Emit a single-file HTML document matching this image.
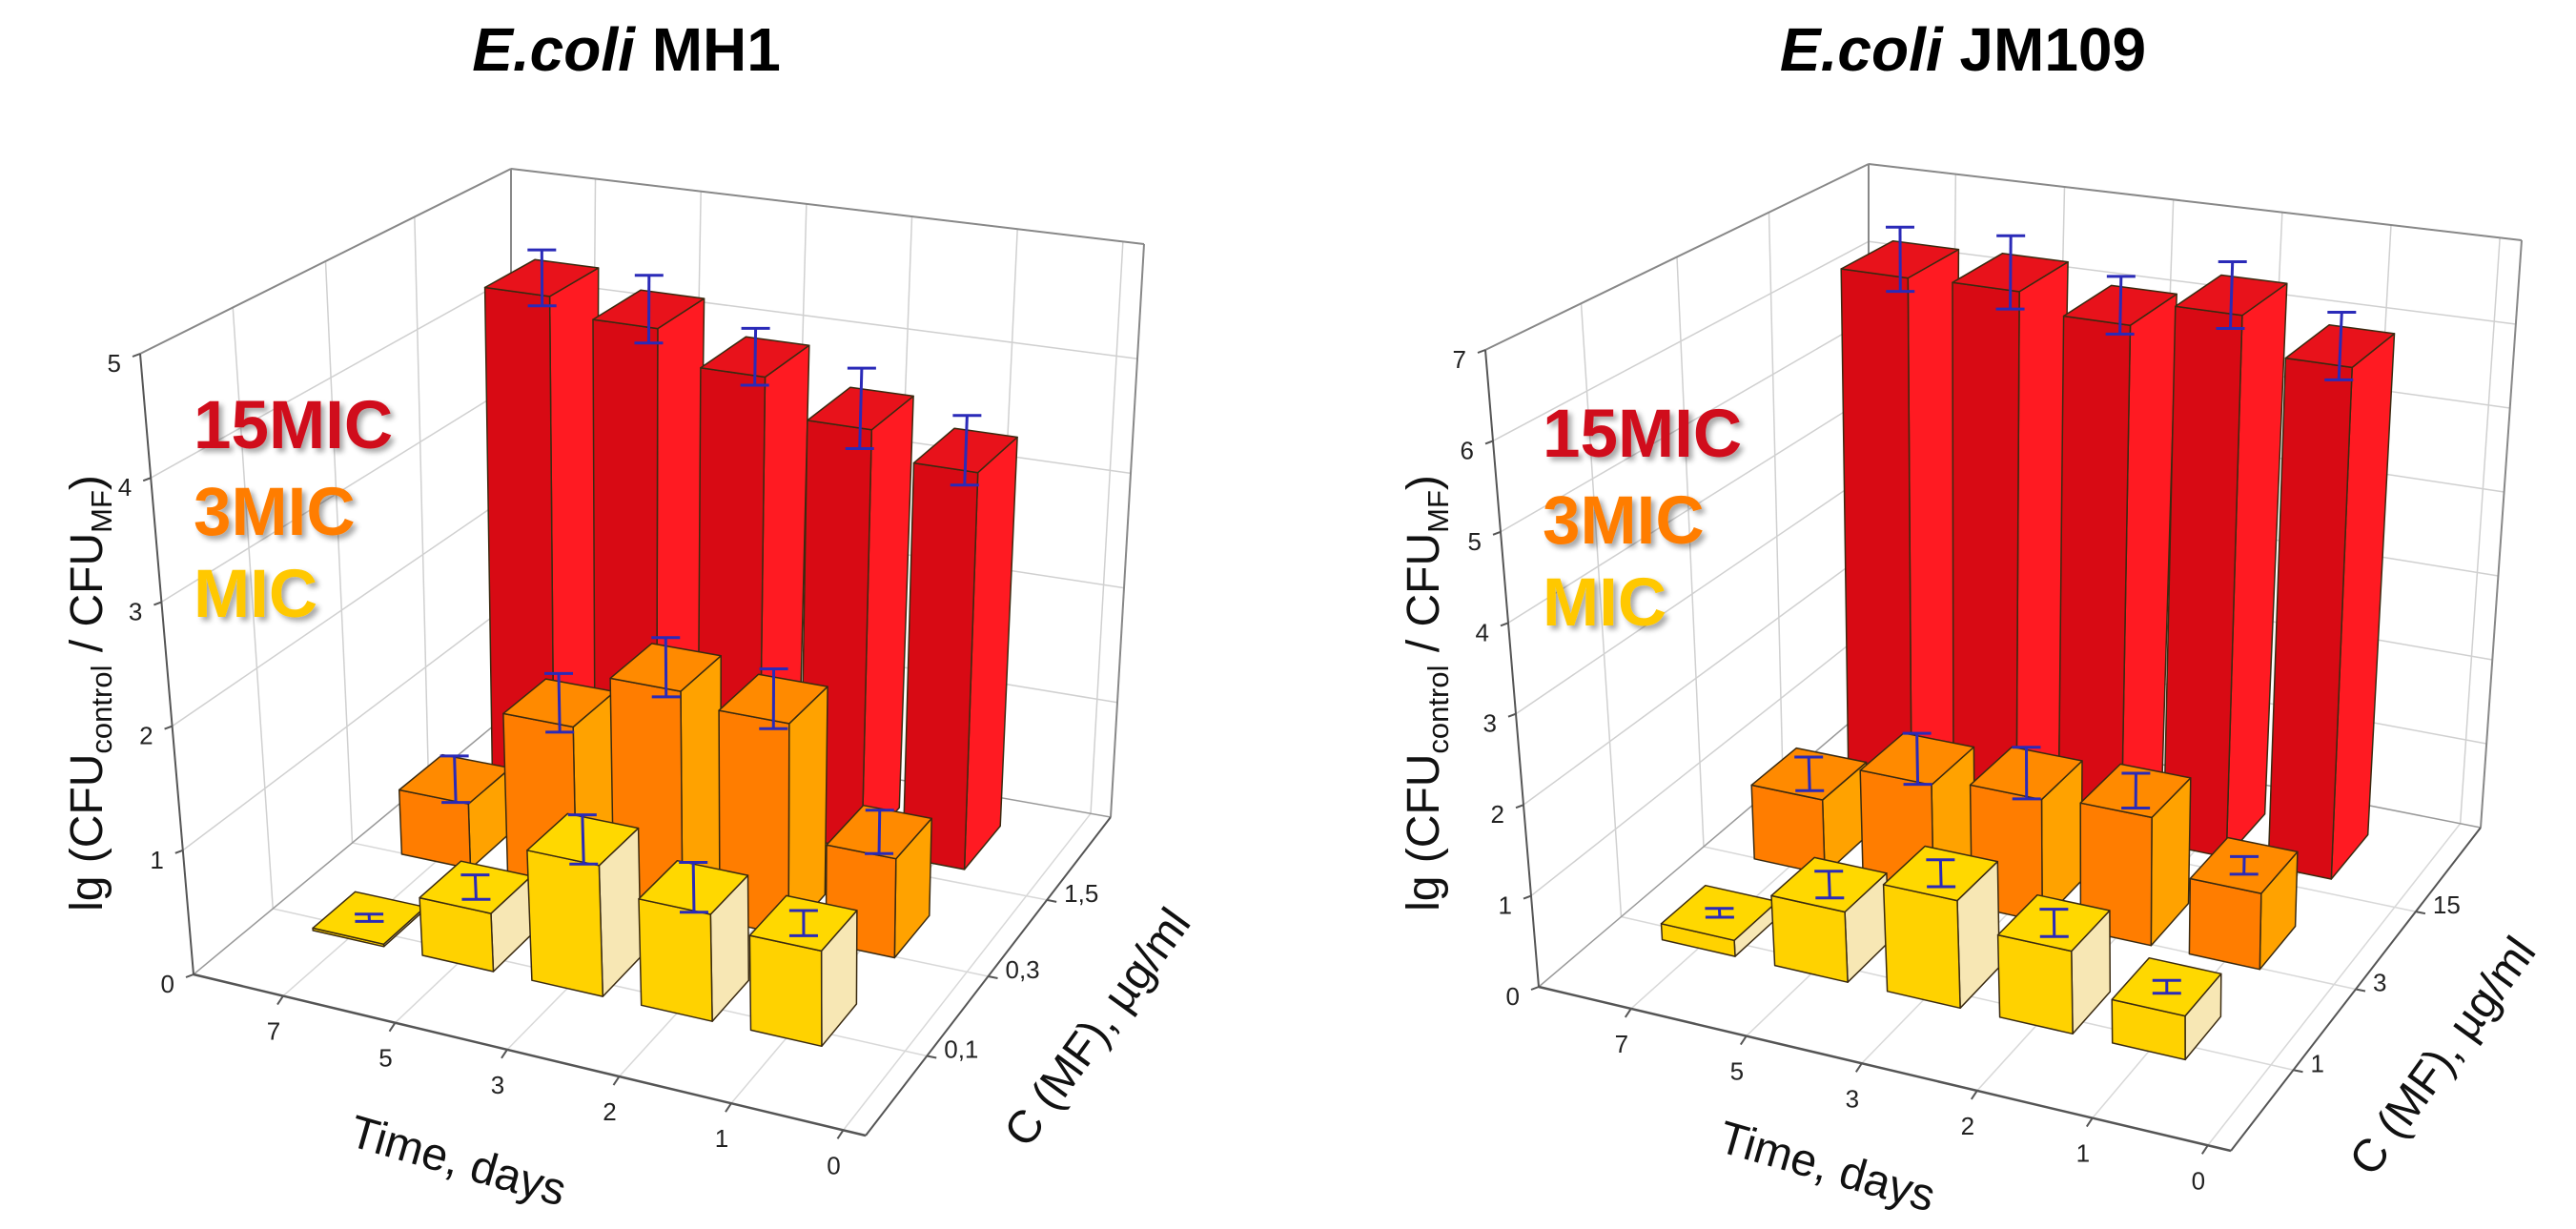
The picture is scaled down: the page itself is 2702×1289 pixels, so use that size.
<!DOCTYPE html>
<html><head><meta charset="utf-8">
<style>
html,body{margin:0;padding:0;background:#fff;}
svg{display:block;font-family:"Liberation Sans",sans-serif;}
</style></head>
<body>
<svg id="chart" width="2702" height="1289" viewBox="0 0 2702 1289">
<defs>
<filter id="sh" x="-10%" y="-10%" width="130%" height="140%"><feGaussianBlur in="SourceAlpha" stdDeviation="3"/><feOffset dx="4" dy="4"/><feComponentTransfer><feFuncA type="linear" slope="0.35"/></feComponentTransfer><feMerge><feMergeNode/><feMergeNode in="SourceGraphic"/></feMerge></filter>
</defs>
</svg>
<script>
// ---- data ----
const timeLabels = ["7","5","3","2","1","0"];
const zTicksA = [0,1,2,3,4,5];
const zTicksB = [0,1,2,3,4,5,6,7];
const concLabelsA = ["0,1","0,3","1,5"];
const concLabelsB = ["1","3","15"];
const seriesNames = ["MIC","3MIC","15MIC"];
const micA = [0.02,0.47,1.05,0.85,0.75];
const mic3A = [0.55,1.38,1.85,1.75,0.81];
const mic15A = [4.37,4.22,3.93,3.61,3.38];
const errA_mic = [0.03,0.1,0.2,0.2,0.1];
const errA_mic3 = [0.2,0.25,0.25,0.25,0.18];
const errA_mic15 = [0.25,0.3,0.25,0.35,0.3];
const micB = [0.18,0.78,1.18,0.9,0.47];
const mic3B = [0.87,1.31,1.4,1.45,0.85];
const mic15B = [6.3,6.32,6.1,6.4,5.97];
const errB_mic = [0.05,0.15,0.15,0.15,0.07];
const errB_mic3 = [0.2,0.3,0.3,0.2,0.1];
const errB_mic15 = [0.4,0.45,0.35,0.4,0.4];

const NS="http://www.w3.org/2000/svg";
const svg=document.getElementById('chart');
function mk(tag,attrs,parent){const e=document.createElementNS(NS,tag);for(const k in attrs)e.setAttribute(k,attrs[k]);(parent||svg).appendChild(e);return e;}

const panels=[
 {name:"mh1",title:"MH1",cx:657,zmax:5,zt:zTicksA,conc:concLabelsA,
  vals:[micA,mic3A,mic15A],errs:[errA_mic,errA_mic3,errA_mic15],
  C:{FLB:[203,1022],FLT:[147,371],FRB:[908,1191],FRT:[905,500],BLB:[536,746],BLT:[536,177],BRB:[1165,857],BRT:[1200,256]},
  lx:203,ly:470,ytx:91,yty:727,ctx:1150,cty:1077,ttx:476,tty:1217},
 {name:"jm109",title:"JM109",cx:2059,zmax:7,zt:zTicksB,conc:concLabelsB,
  vals:[micB,mic3B,mic15B],errs:[errB_mic,errB_mic3,errB_mic15],
  C:{FLB:[1614,1035],FLT:[1558,367],FRB:[2340,1207],FRT:[2335,500],BLB:[1960,741],BLT:[1960,172],BRB:[2602,868],BRT:[2645,252]},
  lx:1618,ly:479,ytx:1493,yty:727,ctx:2561,cty:1107,ttx:1912,tty:1223}
];
const colors=[
 {front:"#ffd200",side:"#f7e7b4",top:"#ffd800"},
 {front:"#ff7d00",side:"#ffa200",top:"#ff8a00"},
 {front:"#d80a14",side:"#ff1a22",top:"#e8121b"}
];
const rowDepth=[0.28,0.565,0.85];
const labelDepth=[0.25,0.5,0.74];
const rowHalfDepth=[0.068,0.068,0.07];
const rowHalfWidth=[0.054,0.054,0.05];
function lerp(a,b,t){return [a[0]+(b[0]-a[0])*t,a[1]+(b[1]-a[1])*t];}

panels.forEach(p=>{
  const C=p.C;
  const proj=(t,d,z)=>{
    const b=lerp(lerp(C.FLB,C.FRB,t),lerp(C.BLB,C.BRB,t),d);
    const u=lerp(lerp(C.FLT,C.FRT,t),lerp(C.BLT,C.BRT,t),d);
    return lerp(b,u,z/p.zmax);
  };
  const g=mk('g',{});
  
  
  const pt=a=>a[0].toFixed(1)+","+a[1].toFixed(1);
  const line=(a,b,col,w,par,nm)=>{const l=mk('line',{x1:a[0],y1:a[1],x2:b[0],y2:b[1],stroke:col,'stroke-width':w},par);return l;};
  const ti=mk('text',{x:p.cx,y:74,'text-anchor':'middle','font-size':64,'font-weight':'bold'},g);
  
  
  const i1=mk('tspan',{'font-style':'italic'},ti);i1.textContent="E.coli ";
  const i2=mk('tspan',{},ti);i2.textContent=p.title;
  const gg=mk('g',{},g);
  
  
  p.zt.forEach(z=>{ if(z===0)return;
    line(proj(0,0,z),proj(0,1,z),"#d0d0d0",1.5,gg,'grid-line');
    line(proj(0,1,z),proj(1,1,z),"#d0d0d0",1.5,gg,'grid-line');});
  for(let i=0;i<6;i++){const t=(i+0.8)/6;
    line(proj(t,1,0),proj(t,1,p.zmax),"#d0d0d0",1.5,gg,'grid-line');
    line(proj(t,0,0),proj(t,1,0),"#d8d8d8",1.5,gg,'grid-line');}
  labelDepth.forEach(d=>{
    line(proj(0,d,0),proj(0,d,p.zmax),"#d0d0d0",1.5,gg,'grid-line');
    line(proj(0,d,0),proj(1,d,0),"#d8d8d8",1.5,gg,'grid-line');});
  line(proj(0,1,0),proj(0,1,p.zmax),"#888",2,gg,'box-edge');
  line(proj(1,1,0),proj(1,1,p.zmax),"#888",2,gg,'box-edge');
  line(proj(0,0,p.zmax),proj(0,1,p.zmax),"#888",2,gg,'box-edge');
  line(proj(0,1,p.zmax),proj(1,1,p.zmax),"#888",2,gg,'box-edge');
  line(proj(0,1,0),proj(1,1,0),"#999",1.5,gg,'box-edge');
  line(proj(0,1,0),proj(0,0,0),"#999",1.5,gg,'box-edge');
  line(proj(0,0,0),proj(0,0,p.zmax),"#555",2,g,'z-axis');
  line(proj(0,0,0),proj(1,0,0),"#555",2.5,g,'time-axis');
  line(proj(1,0,0),proj(1,1,0),"#555",2,g,'conc-axis');
  p.zt.forEach(z=>{const a=proj(0,0,z);
    line(a,[a[0]-8,a[1]+3],"#555",2,g,'z-tick');
    const tx=mk('text',{x:a[0]-20,y:a[1]+19,'text-anchor':'end','font-size':26,fill:'#222'},g);
    
    
    tx.textContent=z;});
  timeLabels.forEach((s,i)=>{const a=proj((i+0.8)/6,0,0);
    line(a,[a[0]-6,a[1]+9],"#555",2,g,'time-tick');
    const tx=mk('text',{x:a[0]-10,y:a[1]+46,'text-anchor':'middle','font-size':26,fill:'#222'},g);
    
    
    tx.textContent=s;});
  p.conc.forEach((s,i)=>{const a=proj(1,labelDepth[i],0);
    line(a,[a[0]+10,a[1]+2],"#555",2,g,'conc-tick');
    const tx=mk('text',{x:a[0]+18,y:a[1]+2,'text-anchor':'start','font-size':26,fill:'#222'},g);
    
    
    tx.textContent=s;});
  for(let r=2;r>=0;r--){
    const vals=p.vals[r],errs=p.errs[r],col=colors[r],d=rowDepth[r];
    vals.forEach((v,i)=>{
      const tc=(i+0.8)/6, hw=rowHalfWidth[r], hd=rowHalfDepth[r], t0=tc-hw,t1=tc+hw, d0=d-hd,d1=d+hd;
      const bg=mk('g',{stroke:'#3a2a10','stroke-width':1.5,'stroke-linejoin':'round'},g);
      
      
      const poly=(pts,fill)=>mk('polygon',{points:pts.map(pt).join(' '),fill:fill},bg);
      poly([proj(t1,d0,0),proj(t1,d1,0),proj(t1,d1,v),proj(t1,d0,v)],col.side);
      poly([proj(t0,d0,0),proj(t1,d0,0),proj(t1,d0,v),proj(t0,d0,v)],col.front);
      poly([proj(t0,d0,v),proj(t1,d0,v),proj(t1,d1,v),proj(t0,d1,v)],col.top);
      const e=errs[i];
      const eg=mk('g',{stroke:'#2a2ab8','stroke-width':3},g);
      
      
      const c0=proj(tc,d,v-e),c1=proj(tc,d,v+e);
      mk('line',{x1:c0[0],y1:c0[1],x2:c1[0],y2:c1[1]},eg);
      [c0,c1].forEach(c=>mk('line',{x1:c[0]-15,y1:c[1],x2:c[0]+15,y2:c[1]},eg));
    });
  }
  const lg=mk('g',{'font-weight':'bold','font-size':71,filter:'url(#sh)'},g);
  
  
  [["15MIC","#d0101a",0],["3MIC","#ff7d00",91],["MIC","#ffc800",177]].forEach(([s,c,dy])=>{
    const t=mk('text',{x:p.lx,y:p.ly+dy,fill:c},lg);
    
    
    t.textContent=s;});
  const yt=mk('text',{x:0,y:0,'text-anchor':'middle','font-size':48,fill:'#111',transform:`translate(${p.ytx+16},${p.yty}) rotate(-90)`},g);
  
  
  yt.innerHTML='lg (CFU<tspan font-size="31" dy="10">control</tspan><tspan dy="-10"> / CFU</tspan><tspan font-size="31" dy="10">MF</tspan><tspan dy="-10">)</tspan>';
  const tt=mk('text',{x:0,y:0,'text-anchor':'middle','font-size':48,fill:'#111',transform:`translate(${p.ttx},${p.tty+16}) rotate(16)`},g);
  
  
  tt.textContent="Time, days";
  const ct=mk('text',{x:0,y:0,'text-anchor':'middle','font-size':48,fill:'#111',transform:`translate(${p.ctx+14},${p.cty+10}) rotate(-54)`},g);
  
  
  ct.textContent="C (MF), µg/ml";
});
</script>
</body></html>
